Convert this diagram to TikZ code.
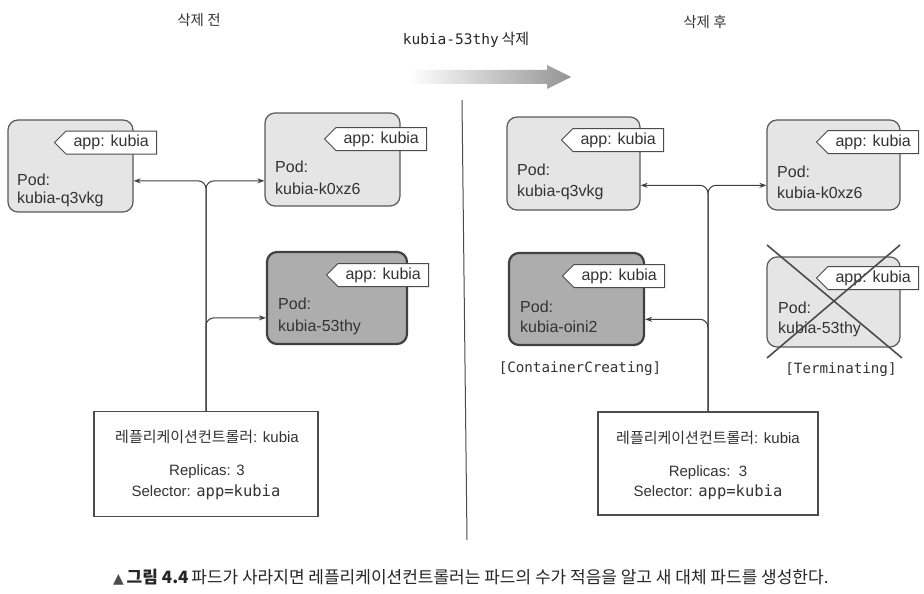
\documentclass[tikz,border=0pt]{standalone}
\usepackage{fontspec}
\setmainfont{Liberation Sans}
\setmonofont{DejaVu Sans Mono}
\newfontfamily\kr{Noto Sans CJK KR}
\newfontfamily\sym{DejaVu Sans}
\usetikzlibrary{shapes.symbols,arrows.meta,calc}
\begin{document}
\begin{tikzpicture}[x=1pt,y=-1pt,
  pod/.style={draw=black!65, line width=1.2pt, rounded corners=10pt, fill=black!10},
  podnew/.style={draw=black!75, line width=2.2pt, rounded corners=10pt, fill=black!32},
  tag/.style={signal, signal to=west, draw=black!70, fill=white, line width=1pt,
    minimum height=23pt, minimum width=102pt, inner xsep=4pt, inner ysep=1pt,
    font=\fontsize{16}{16}\selectfont, text=black!80},
  ptxt/.style={anchor=west, inner sep=0pt, font=\fontsize{16}{16}\selectfont, text=black!80},
  rc/.style={draw=black!70, line width=1.3pt, fill=white},
  rctxt/.style={inner sep=0pt, font=\fontsize{15}{15}\selectfont, text=black!80},
  mono/.style={inner sep=0pt, font=\ttfamily\fontsize{14.2}{15}\selectfont, text=black!80},
  conn/.style={draw=black!75, line width=1pt, rounded corners=8pt, -{Stealth[length=7pt,width=5pt]}},
  title/.style={inner sep=0pt, font=\kr\fontsize{14.5}{15}\selectfont, text=black!80}
]
\useasboundingbox (0,0) rectangle (924,594);
\fill[white] (0,0) rectangle (924,594);

% titles
\node[title] (tb) at (199,20) {삭제 전};
\node[title] (ta) at (705,22) {삭제 후};
\node[inner sep=0pt, text=black!85] (td) at (466,40) {{\ttfamily\fontsize{14.5}{15}\selectfont kubia-53thy} {\kr\fontsize{15}{15}\selectfont 삭제}};

% big arrow
\shade[left color=white, right color=black!42]
  (410,70) -- (547,70) -- (547,65) -- (571,77) -- (547,89) -- (547,84) -- (410,84) -- cycle;

% divider
\draw[black!70, line width=1pt] (462,100) -- (467,540);

% ---------- left: before ----------
\node[pod, minimum width=125pt, minimum height=92pt] (lq) at (70.5,166) {};
\node[pod, minimum width=135pt, minimum height=93pt] (lk) at (332.5,159.5) {};
\node[podnew, minimum width=140pt, minimum height=92pt] (l5) at (337,298) {};

\node[tag, anchor=east] (lqt) at (157,142.5) {app: kubia};
\node[tag, anchor=east] (lkt) at (427,139) {app: kubia};
\node[tag, anchor=east] (l5t) at (429,275) {app: kubia};

\node[ptxt] (lqp) at (17,180) {Pod:};
\node[ptxt] (lqn) at (17,199) {kubia-q3vkg};
\node[ptxt] (lkp) at (275,167) {Pod:};
\node[ptxt] (lkn) at (275,189) {kubia-k0xz6};
\node[ptxt] (l5p) at (278,304) {Pod:};
\node[ptxt] (l5n) at (278,327) {kubia-53thy};

\node[rc, minimum width=224pt, minimum height=105pt] (rcl) at (206,464) {};
\node[rctxt] (rcl1) at (207,437) {{\kr 레플리케이션컨트롤러}: kubia};
\node[rctxt] (rcl2) at (207,472) {Replicas: 3};
\node[rctxt] (rcl3) at (206,492) {Selector: {\ttfamily\fontsize{15.5}{15}\selectfont app=kubia}};

\coordinate (jl) at ($(rcl.north)+(0,-230)$);
\coordinate (jl2) at ($(rcl.north)+(0,-93)$);
\draw[conn] (rcl.north) -- (jl) -- (lq.east |- jl);
\draw[conn] (rcl.north) -- (jl) -- (lk.west |- jl);
\draw[conn] (rcl.north) -- (jl2) -- (l5.west |- jl2);

% ---------- right: after ----------
\node[pod, minimum width=133pt, minimum height=93pt] (rq) at (573.5,163.5) {};
\node[pod, minimum width=133pt, minimum height=90pt] (rk) at (833.5,165) {};
\node[podnew, minimum width=135pt, minimum height=92pt] (ro) at (576.5,299) {};
\node[pod, minimum width=133pt, minimum height=90pt] (r5) at (833.5,302) {};

\node[tag, anchor=east] (rqt) at (664,140) {app: kubia};
\node[tag, anchor=east] (rkt) at (919,142) {app: kubia};
\node[tag, anchor=east] (rot) at (665,276) {app: kubia};
\node[tag, anchor=east] (r5t) at (919,278) {app: kubia};

\node[ptxt] (rqp) at (517,170) {Pod:};
\node[ptxt] (rqn) at (517,192) {kubia-q3vkg};
\node[ptxt] (rkp) at (777,172) {Pod:};
\node[ptxt] (rkn) at (777,193) {kubia-k0xz6};
\node[ptxt] (rop) at (520,307) {Pod:};
\node[ptxt] (ron) at (520,327) {kubia-oini2};
\node[ptxt] (r5p) at (778,308) {Pod:};
\node[ptxt] (r5n) at (778,329) {kubia-53thy};

\draw[black!70, line width=1.6pt] (767,245) -- (902,358);
\draw[black!70, line width=1.6pt] (900,245) -- (767,358);

\node[mono] (cc) at (580,369) {[ContainerCreating]};
\node[mono] (tm) at (841,370) {[Terminating]};

\node[rc, minimum width=220pt, minimum height=103pt] (rcr) at (708,463.5) {};
\node[rctxt] (rcr1) at (708,438) {{\kr 레플리케이션컨트롤러}: kubia};
\node[rctxt] (rcr2) at (708,473) {Replicas:\ \ 3};
\node[rctxt] (rcr3) at (708,492) {Selector: {\ttfamily\fontsize{15.5}{15}\selectfont app=kubia}};

\coordinate (jr) at ($(rcr.north)+(0,-226)$);
\coordinate (jr2) at ($(rcr.north)+(0,-92)$);
\draw[conn] (rcr.north) -- (jr) -- (rq.east |- jr);
\draw[conn] (rcr.north) -- (jr) -- (rk.west |- jr);
\draw[conn] (rcr.north) -- (jr2) -- (ro.east |- jr2);

% caption
\node[anchor=west, inner sep=0pt, text=black!85] (cap) at (113,577)
  {{\sym\fontsize{14}{16}\selectfont\color{black!70}▲}\ {\kr\fontsize{17}{18}\selectfont\bfseries 그림 4.4} {\kr\fontsize{17}{18}\selectfont 파드가 사라지면 레플리케이션컨트롤러는 파드의 수가 적음을 알고 새 대체 파드를 생성한다.}};
\end{tikzpicture}
\end{document}
